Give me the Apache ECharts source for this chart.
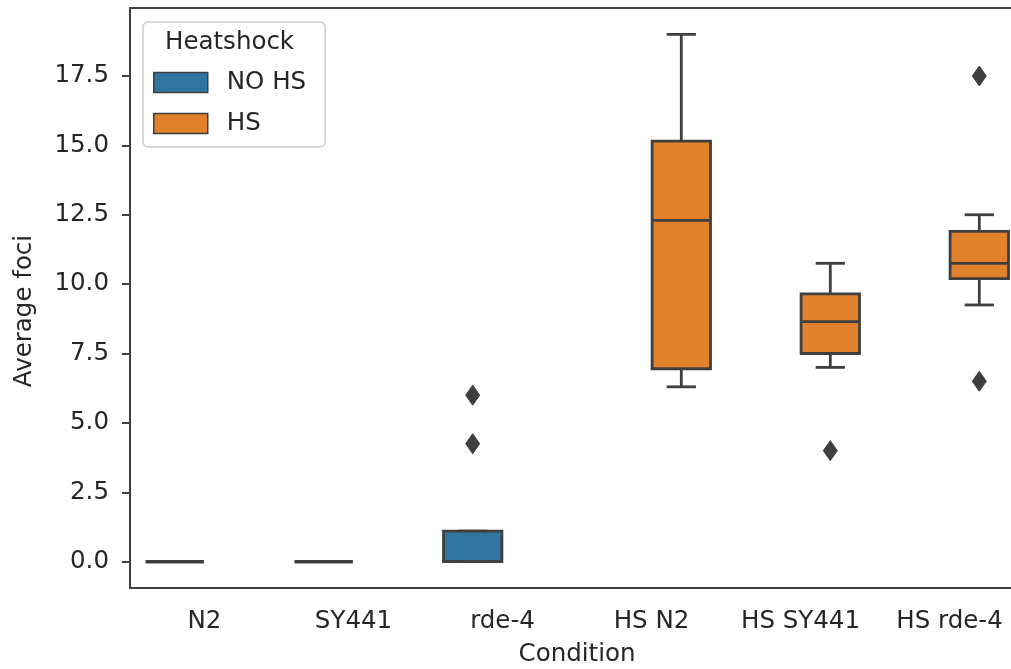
<!DOCTYPE html>
<html>
<head>
<meta charset="utf-8">
<script src="https://cdn.jsdelivr.net/npm/echarts@6/dist/echarts.min.js"></script>
<style>
html,body{margin:0;padding:0;background:#fff;}
#chart{width:1011px;height:669px;}
</style>
</head>
<body>
<div id="chart"></div>
<script>
// ---- data ----
const categories = ['N2', 'SY441', 'rde-4', 'HS N2', 'HS SY441', 'HS rde-4'];
const hueNames = ['NO HS', 'HS'];
// stats: [lower whisker, Q1, median, Q3, upper whisker]
const noHsCats = ['N2', 'SY441', 'rde-4'];
const noHsStats = [
  [0, 0, 0, 0, 0],
  [0, 0, 0, 0, 0],
  [0, 0, 0, 1.1, 1.1]
];
const hsCats = ['HS N2', 'HS SY441', 'HS rde-4'];
const hsStats = [
  [6.3, 6.95, 12.3, 15.15, 19.0],
  [7.0, 7.5, 8.65, 9.65, 10.75],
  [9.25, 10.2, 10.75, 11.9, 12.5]
];
const noHsOutliers = [['rde-4', 6.0], ['rde-4', 4.25]];
const hsOutliers = [['HS SY441', 4.0], ['HS rde-4', 17.5], ['HS rde-4', 6.5]];
const yTicks = [0, 2.5, 5, 7.5, 10, 12.5, 15, 17.5];

// ---- styling ----
const COLORS = {'NO HS': '#3274a1', 'HS': '#e1812c'};
const EDGE = '#3f3f3f';
const TEXT = '#262626';
const FONT = 'DejaVu Sans';
const FS = 24.5;
const LW = 2.8;

function boxData(cats, stats) {
  return cats.map((c, i) => [categories.indexOf(c)].concat(stats[i]));
}
function outData(list) {
  return list.map(o => [categories.indexOf(o[0]), o[1]]);
}

function boxRender(offsetFrac, color) {
  return function (params, api) {
    const x = api.value(0);
    const band = api.size([1, 0])[0];
    const cx = api.coord([x, 0])[0] + offsetFrac * band;
    const w = band * 0.392;
    const y = v => api.coord([x, api.value(v)])[1];
    const lo = y(1), q1 = y(2), med = y(3), q3 = y(4), hi = y(5);
    const ls = {stroke: EDGE, lineWidth: LW, fill: null};
    const l = cx - w / 2, r = cx + w / 2;
    const kids = [];
    if (hi - lo !== 0) {
      kids.push({type: 'line', shape: {x1: cx, y1: lo, x2: cx, y2: q1}, style: ls});
      kids.push({type: 'line', shape: {x1: cx, y1: q3, x2: cx, y2: hi}, style: ls});
      kids.push({type: 'line', shape: {x1: cx - w / 4, y1: lo, x2: cx + w / 4, y2: lo}, style: ls});
      kids.push({type: 'line', shape: {x1: cx - w / 4, y1: hi, x2: cx + w / 4, y2: hi}, style: ls});
    }
    if (q1 - q3 > 0.5) {
      kids.push({type: 'rect', shape: {x: l, y: q3, width: w, height: q1 - q3},
        style: {fill: color, stroke: EDGE, lineWidth: LW}});
    }
    kids.push({type: 'line', shape: {x1: l, y1: med, x2: r, y2: med},
      style: {stroke: EDGE, lineWidth: q1 - q3 > 0.5 ? LW : LW + 0.7}});
    return {type: 'group', children: kids};
  };
}
function outRender(offsetFrac) {
  return function (params, api) {
    const band = api.size([1, 0])[0];
    const p = api.coord([api.value(0), api.value(1)]);
    const cx = p[0] + offsetFrac * band, cy = p[1];
    const hw = 7, hh = 10;
    return {
      type: 'polygon',
      shape: {points: [[cx, cy - hh], [cx + hw, cy], [cx, cy + hh], [cx - hw, cy]]},
      style: {fill: EDGE, stroke: EDGE, lineWidth: 1}
    };
  };
}

const chart = echarts.init(document.getElementById('chart'), null, {renderer: 'canvas'});
const option = {
  animation: false,
  backgroundColor: '#ffffff',
  textStyle: {fontFamily: FONT, color: TEXT},
  grid: {left: 130, top: 8, width: 894, bottom: 81, show: true,
    outerBoundsMode: 'none',
    borderColor: EDGE, borderWidth: 2, backgroundColor: 'transparent', containLabel: false},
  xAxis: {
    type: 'category', data: categories,
    name: 'Condition', nameLocation: 'middle', nameGap: 54,
    nameTextStyle: {fontSize: FS, color: TEXT, fontFamily: FONT},
    axisLine: {onZero: false, lineStyle: {color: EDGE, width: 2}},
    axisTick: {alignWithLabel: true, length: 8, lineStyle: {color: EDGE, width: 2}},
    axisLabel: {fontSize: FS, color: TEXT, fontFamily: FONT, margin: 21, interval: 0},
    splitLine: {show: false}
  },
  yAxis: {
    type: 'value', min: -0.95, max: 19.95,
    name: 'Average foci', nameLocation: 'middle', nameGap: 93,
    nameTextStyle: {fontSize: FS, color: TEXT, fontFamily: FONT, padding: [0, 26, 0, 0]},
    axisLine: {show: true, onZero: false, lineStyle: {color: EDGE, width: 2}},
    axisTick: {show: true, length: 8, customValues: yTicks, lineStyle: {color: EDGE, width: 2}},
    axisLabel: {fontSize: FS, color: TEXT, fontFamily: FONT, margin: 21, customValues: yTicks,
      formatter: v => Number(v).toFixed(1)},
    splitLine: {show: false}
  },
  legend: {
    orient: 'vertical', left: 143, top: 22,
    padding: [48, 19, 11, 10], itemGap: 16,
    itemWidth: 54, itemHeight: 20,
    backgroundColor: 'rgba(255,255,255,0.8)', borderColor: '#cccccc', borderWidth: 1.5, borderRadius: 5,
    textStyle: {fontSize: FS, color: TEXT, fontFamily: FONT, padding: [0, 0, 0, 14]},
    data: hueNames.map(n => ({name: n, icon: 'rect',
      itemStyle: {color: COLORS[n], borderColor: EDGE, borderWidth: 1.5}}))
  },
  graphic: [{
    type: 'text', left: 165, top: 30, z: 100,
    style: {text: 'Heatshock', fontSize: FS, fontFamily: FONT, fill: TEXT}
  }],
  series: [
    {name: 'NO HS', type: 'custom', renderItem: boxRender(-0.2, COLORS['NO HS']),
      itemStyle: {color: COLORS['NO HS']},
      encode: {x: 0, y: [1, 2, 3, 4, 5]}, data: boxData(noHsCats, noHsStats)},
    {name: 'HS', type: 'custom', renderItem: boxRender(0.2, COLORS['HS']),
      itemStyle: {color: COLORS['HS']},
      encode: {x: 0, y: [1, 2, 3, 4, 5]}, data: boxData(hsCats, hsStats)},
    {name: 'NO HS', type: 'custom', renderItem: outRender(-0.2),
      encode: {x: 0, y: 1}, data: outData(noHsOutliers)},
    {name: 'HS', type: 'custom', renderItem: outRender(0.2),
      encode: {x: 0, y: 1}, data: outData(hsOutliers)}
  ]
};
chart.setOption(option);
</script>
</body>
</html>
